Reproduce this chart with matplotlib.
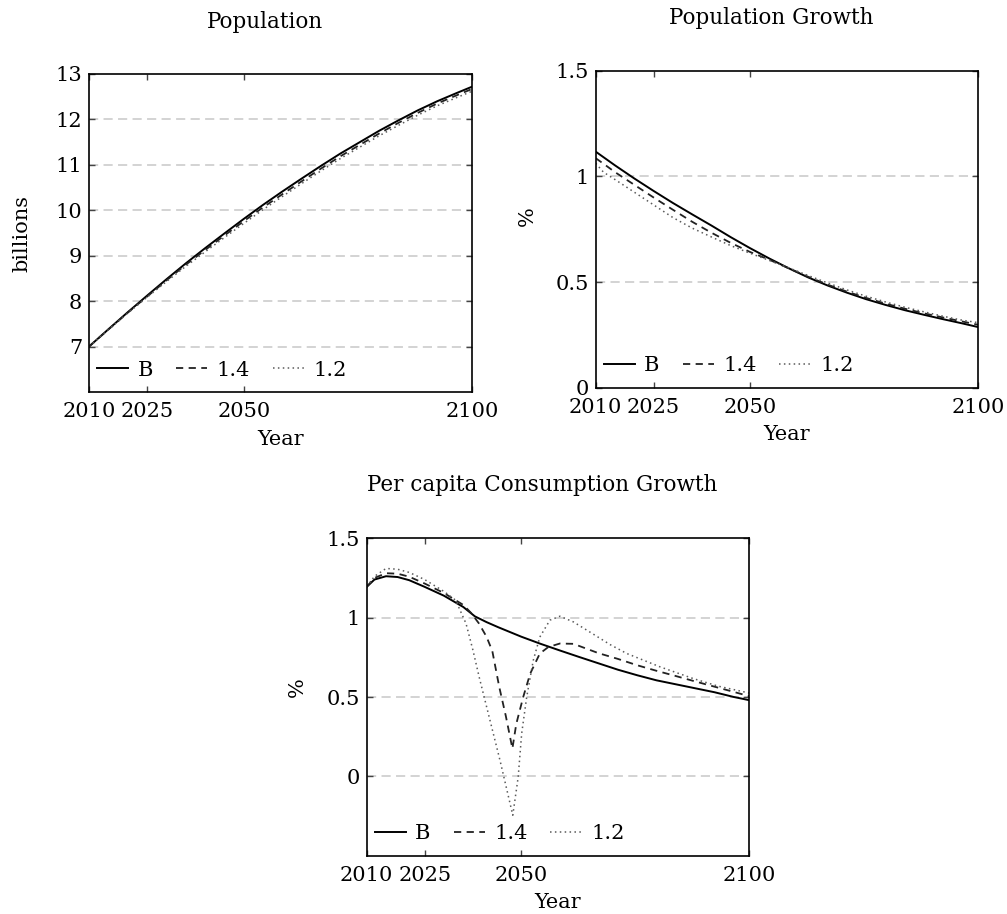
import matplotlib as mpl
mpl.use("agg")
import matplotlib.pyplot as plt

plt.rcParams["font.family"] = ["DejaVu Serif"]

# model periods: 1 = 2010, the run has 100 periods
tick_periods = [1, 16, 41, 100]
tick_years = ["2010", "2025", "2050", "2100"]
names = ["B", "1.4", "1.2"]

# population, billions
pop_t = [1, 6, 11, 16, 21, 26, 31, 36, 41, 46, 51, 56, 61, 66, 71, 76, 81, 86, 91, 96, 100]
pop_b = [7.0, 7.38, 7.755, 8.12, 8.48, 8.83, 9.165, 9.49, 9.81, 10.12, 10.415,
         10.70, 10.98, 11.25, 11.5, 11.75, 11.98, 12.2, 12.4, 12.58, 12.72]
pop_14 = [7.0, 7.375, 7.745, 8.10, 8.455, 8.80, 9.125, 9.445, 9.76, 10.065, 10.355,
          10.64, 10.92, 11.19, 11.44, 11.69, 11.925, 12.145, 12.35, 12.53, 12.67]
pop_12 = [7.0, 7.37, 7.735, 8.085, 8.43, 8.765, 9.085, 9.40, 9.71, 10.015, 10.305,
          10.59, 10.87, 11.14, 11.39, 11.64, 11.87, 12.095, 12.30, 12.48, 12.62]

# population growth, %
gr_t = [1, 3, 6, 11, 16, 21, 26, 31, 36, 41, 46, 51, 56, 61, 66, 71, 76, 81, 86, 91, 96, 100]
gr_b = [1.117, 1.091, 1.052, 0.99, 0.931, 0.874, 0.82, 0.767, 0.712, 0.66, 0.611,
        0.565, 0.522, 0.484, 0.45, 0.419, 0.392, 0.367, 0.345, 0.324, 0.304, 0.287]
gr_14 = [1.086, 1.06, 1.02, 0.96, 0.90, 0.842, 0.785, 0.733, 0.685, 0.642, 0.605,
         0.565, 0.525, 0.488, 0.455, 0.425, 0.398, 0.374, 0.352, 0.332, 0.313, 0.298]
gr_12 = [1.062, 1.02, 0.985, 0.925, 0.865, 0.805, 0.755, 0.713, 0.672, 0.636, 0.602,
         0.567, 0.531, 0.496, 0.463, 0.433, 0.406, 0.381, 0.359, 0.338, 0.319, 0.308]

# per capita consumption growth, %
cons_b_t = [1, 3, 6, 9, 12, 16, 21, 26, 29, 32, 35, 41, 46, 51, 56, 61, 66, 71,
            76, 81, 86, 91, 96, 100]
cons_b = [1.194, 1.24, 1.261, 1.256, 1.236, 1.194, 1.138, 1.067, 1.008, 0.972, 0.94,
          0.88, 0.835, 0.793, 0.752, 0.712, 0.672, 0.637, 0.605, 0.58, 0.555, 0.53,
          0.50, 0.48]
cons_14_t = [1, 3, 6, 9, 12, 16, 21, 26, 28, 30, 32, 33.5, 35.3, 37, 38.7, 39.7,
             41.5, 43.3, 45.8, 48, 51, 54.5, 61, 66, 71, 76, 81, 86, 91, 96, 100]
cons_14 = [1.194, 1.25, 1.28, 1.277, 1.258, 1.215, 1.155, 1.08, 1.03, 0.965, 0.88,
           0.79, 0.563, 0.38, 0.175, 0.33, 0.50, 0.647, 0.774, 0.815, 0.837, 0.835,
           0.776, 0.74, 0.70, 0.665, 0.632, 0.598, 0.565, 0.532, 0.505]
cons_12_t = [1, 3, 6, 9, 12, 16, 21, 24, 26.7, 28.5, 30.1, 35.5, 38.8, 40.2, 41.1,
             42.4, 44.1, 45.8, 48.4, 51, 54.5, 59.7, 64, 68.3, 76.9, 85.5, 92, 100]
cons_12 = [1.194, 1.26, 1.31, 1.305, 1.285, 1.24, 1.165, 1.11, 0.963, 0.794, 0.626,
           0.10, -0.245, -0.004, 0.27, 0.50, 0.731, 0.878, 0.984, 1.009, 0.973, 0.895,
           0.83, 0.774, 0.69, 0.616, 0.568, 0.525]

styles = [dict(color="black", lw=1.4, linestyle="-"),
          dict(color="#222222", lw=1.3, linestyle=(0, (4, 3))),
          dict(color="#5a5a5a", lw=1.1, linestyle=(0, (1, 2.2)))]


def panel(fig, rect, series, ylim, yticks, yticklabels, ylabel, ylab_x, ylab_y, title, title_xy):
    ax = fig.add_axes(rect)
    for (t, v), name, st in zip(series, names, styles):
        ax.plot(t, v, label=name, **st)
    ax.set_xlim(1, 100)
    ax.set_ylim(*ylim)
    ax.set_xticks(tick_periods)
    ax.set_xticklabels(tick_years)
    ax.set_yticks(yticks)
    ax.set_yticklabels(yticklabels)
    for y in yticks:
        if ylim[0] < y < ylim[1]:
            ax.axhline(y, color="#c8c8c8", lw=1.1, linestyle=(0, (6, 3.5)), zorder=0)
    ax.tick_params(direction="in", top=True, right=True, length=4, width=1,
                   labelsize=15, color="#444444")
    ax.tick_params(axis="x", pad=7.5)
    ax.tick_params(axis="y", pad=5)
    for s in ax.spines.values():
        s.set_linewidth(1.2)
    ax.set_xlabel("Year", fontsize=15)
    ax.xaxis.set_label_coords(0.5, -0.118)
    ax.set_ylabel(ylabel, fontsize=15)
    ax.yaxis.set_label_coords(ylab_x, ylab_y)
    ax.legend(loc="lower left", ncol=3, frameon=False, fontsize=15,
              handlelength=1.5, handletextpad=0.45, columnspacing=1.1,
              borderaxespad=0.2, bbox_to_anchor=(-0.012, 0.0))
    fig.text(title_xy[0], title_xy[1], title, ha="center", va="center", fontsize=15.5)
    return ax


W, H = 1007, 914
fig = plt.figure(figsize=(W / 100, H / 100), dpi=100)

panel(fig, [89 / W, 1 - 392 / H, 383 / W, 318 / H],
      [(pop_t, pop_b), (pop_t, pop_14), (pop_t, pop_12)],
      (6, 13), [7, 8, 9, 10, 11, 12, 13], ["7", "8", "9", "10", "11", "12", "13"],
      "billions", -0.151, 0.5, "Population", (265 / W, 1 - 22 / H))

panel(fig, [595.7 / W, 1 - 387.7 / H, 382.3 / W, 317 / H],
      [(gr_t, gr_b), (gr_t, gr_14), (gr_t, gr_12)],
      (0, 1.5), [0, 0.5, 1, 1.5], ["0", "0.5", "1", "1.5"],
      "%", -0.154, 0.54, "Population Growth", (771 / W, 1 - 18 / H))

panel(fig, [366.7 / W, 1 - 855.7 / H, 382.6 / W, 317.4 / H],
      [(cons_b_t, cons_b), (cons_14_t, cons_14), (cons_12_t, cons_12)],
      (-0.5, 1.5), [0, 0.5, 1, 1.5], ["0", "0.5", "1", "1.5"],
      "%", -0.156, 0.53, "Per capita Consumption Growth", (542 / W, 1 - 485 / H))

fig.savefig("out.png", dpi=100)
